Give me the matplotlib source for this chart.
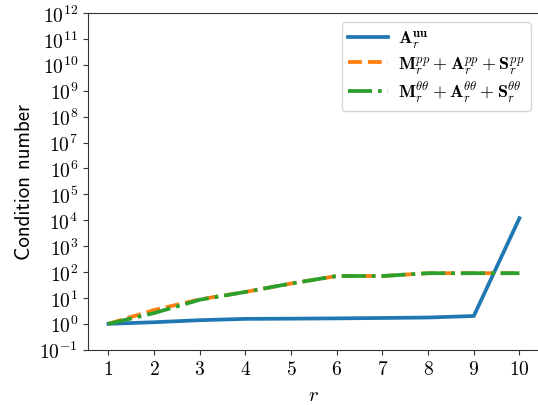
import math
import matplotlib
matplotlib.use("Agg")
import matplotlib.pyplot as plt
from matplotlib.ticker import FixedLocator, FuncFormatter, NullLocator

plt.rcParams['mathtext.fontset'] = 'cm'

r = [1, 2, 3, 4, 5, 6, 7, 8, 9, 10]
a_uu = [1.0, 1.15, 1.38, 1.55, 1.58, 1.62, 1.68, 1.75, 2.0, 1.2e4]
mas_pp = [1.0, 3.4, 8.8, 17, 36, 70, 70, 90, 90, 90]
mas_tt = [1.0, 2.6, 8.5, 17, 36, 70, 70, 90, 90, 90]

labels = [r'$\mathbf{A}_r^{\mathbf{uu}}$',
          r'$\mathbf{M}_r^{pp}+\mathbf{A}_r^{pp}+\mathbf{S}_r^{pp}$',
          r'$\mathbf{M}_r^{\theta\theta}+\mathbf{A}_r^{\theta\theta}+\mathbf{S}_r^{\theta\theta}$']

fig = plt.figure(figsize=(5.38, 4.06), dpi=100)
ax = fig.add_axes([0.1634, 0.1362, 0.8403, 0.8293])

ax.plot(r, a_uu, color='#1f77b4', lw=2.7, ls='-', label=labels[0])
ax.plot(r, mas_pp, color='#ff7f0e', lw=2.7, ls='--', label=labels[1])
ax.plot(r, mas_tt, color='#2ca02c', lw=2.7, ls='-.', label=labels[2])

ax.set_yscale('log')
ax.set_ylim(1e-1, 1e12)
ax.set_xlim(0.55, 10.45)

yt = [10.0**k for k in range(-1, 13)]
ax.yaxis.set_major_locator(FixedLocator(yt))
ax.yaxis.set_minor_locator(NullLocator())
ax.yaxis.set_major_formatter(FuncFormatter(lambda v, p: r'$10^{%d}$' % round(math.log10(v))))
ax.xaxis.set_major_locator(FixedLocator(r))
ax.xaxis.set_major_formatter(FuncFormatter(lambda v, p: r'$\mathrm{%d}$' % round(v)))

ax.tick_params(labelsize=14, color='#333333')
for s in ax.spines.values():
    s.set_color('#333333')

ax.set_xlabel(r'$r$', fontsize=15)
ax.set_ylabel('Condition number', fontsize=15, fontname='cmss10')

ax.legend(loc='upper right', fontsize=13, labelspacing=0.2, borderaxespad=0.5,
          borderpad=0.35, handlelength=2.2, handletextpad=0.6)

fig.savefig('out.png', dpi=100)
